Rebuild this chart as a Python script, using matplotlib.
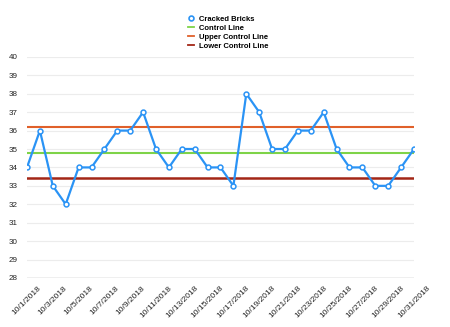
import matplotlib
matplotlib.use("Agg")
import matplotlib.pyplot as plt
from matplotlib.lines import Line2D

plt.rcParams["font.family"] = ["Liberation Sans", "DejaVu Sans"]

dates = [f"10/{d}/2018" for d in range(1, 32)]
cracked = [34, 36, 33, 32, 34, 34, 35, 36, 36, 37,
           35, 34, 35, 35, 34, 34, 33, 38, 37, 35,
           35, 36, 36, 37, 35, 34, 34, 33, 33, 34, 35]
control_line = 34.8
upper_control = 36.2
lower_control = 33.4
yticks = list(range(28, 41))

fig = plt.figure(figsize=(4.5, 3.27), dpi=100)
ax = fig.add_axes([0.06, 0.15, 0.86, 0.676])

x = list(range(len(dates)))
for t in yticks[1:]:
    ax.axhline(t, color="#ececec", lw=0.8, zorder=0)
ax.axhline(28, color="#b0b0b0", lw=1.0, zorder=0)

ax.plot(x, [control_line] * len(x), color="#7ed348", lw=1.5, zorder=2)
ax.plot(x, [upper_control] * len(x), color="#e0602a", lw=1.5, zorder=2)
ax.plot(x, [lower_control] * len(x), color="#a32616", lw=1.8, zorder=2)
ax.plot(x, cracked, color="#2a93f5", lw=1.6, marker="o", ms=3.5,
        mfc="white", mec="#2a93f5", mew=1.1, zorder=3)

ax.set_xlim(0, len(x) - 1)
ax.set_ylim(28, 40)
ax.set_yticks(yticks)
ax.set_yticklabels([str(t) for t in yticks], fontsize=5.8, color="#222222")
ax.set_xticks(x[::2])
ax.set_xticklabels(dates[::2], rotation=45, ha="center",
                   fontsize=6, color="#222222")
ax.tick_params(length=0)
ax.tick_params(axis="x", pad=5)
ax.tick_params(axis="y", pad=7)
for s in ax.spines.values():
    s.set_visible(False)

handles = [
    Line2D([], [], color="#2a93f5", marker="o", ms=3.5, mfc="white", mew=1.2, lw=0),
    Line2D([], [], color="#7ed348", lw=1.3),
    Line2D([], [], color="#e0602a", lw=1.3),
    Line2D([], [], color="#a32616", lw=1.3),
]
labels = ["Cracked Bricks", "Control Line", "Upper Control Line", "Lower Control Line"]
fig.legend(handles, labels, loc="upper left", bbox_to_anchor=(0.405, 0.968), frameon=False,
           handlelength=0.9, handletextpad=0.65, labelspacing=0.2,
           borderpad=0.2, prop={"weight": "bold", "size": 5.5})

fig.savefig("out.png", dpi=100)
